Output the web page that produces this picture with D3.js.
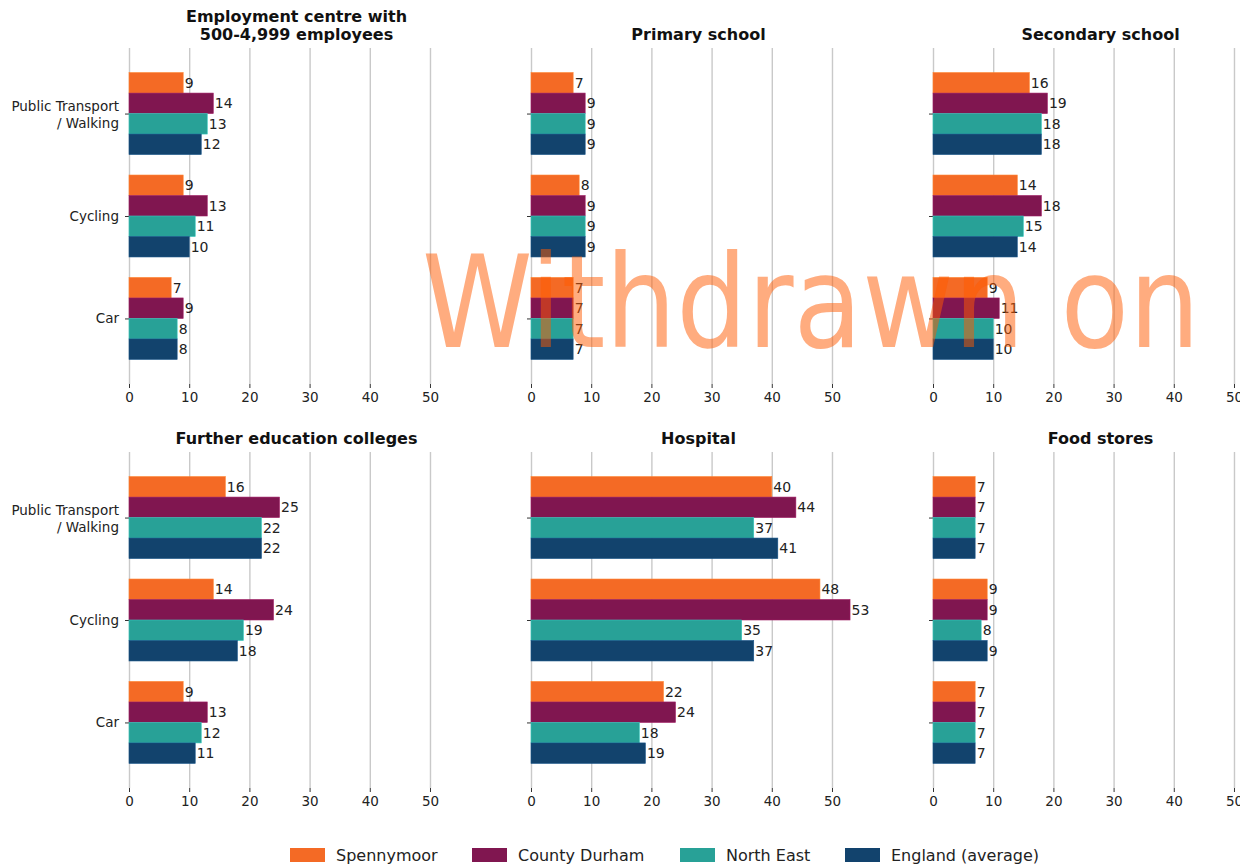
<!DOCTYPE html>
<html>
<head>
<meta charset="utf-8">
<script src="https://cdn.jsdelivr.net/npm/d3@7"></script>
<style>
  body { margin: 0; background: #fff; }
  svg { display: block; font-family: "DejaVu Sans", sans-serif; }
</style>
</head>
<body>
<svg id="chart" width="1240" height="866"></svg>
<script>
'use strict'
// categories down the y axis of every panel
var categories = ['Public Transport / Walking', 'Cycling', 'Car'];
var seriesNames = ['Spennymoor', 'County Durham', 'North East', 'England (average)'];
var seriesColors = ['#f46a25', '#801650', '#28a197', '#12436d'];
var panelTitles = [
	'Employment centre with\n500-4,999 employees', 'Primary school', 'Secondary school',
	'Further education colleges', 'Hospital', 'Food stores'
];
var xTicks = [0, 10, 20, 30, 40, 50];

// minutes, one row per category, one value per series
var employment = [[9, 14, 13, 12], [9, 13, 11, 10], [7, 9, 8, 8]];
var primary    = [[7, 9, 9, 9], [8, 9, 9, 9], [7, 7, 7, 7]];
var secondary  = [[16, 19, 18, 18], [14, 18, 15, 14], [9, 11, 10, 10]];
var further    = [[16, 25, 22, 22], [14, 24, 19, 18], [9, 13, 12, 11]];
var hospital   = [[40, 44, 37, 41], [48, 53, 35, 37], [22, 24, 18, 19]];
var food       = [[7, 7, 7, 7], [9, 9, 8, 9], [7, 7, 7, 7]];
var panels = [employment, primary, secondary, further, hospital, food];

var svg = d3.select('#chart');
var colX = [129, 531, 933], rowY = [48, 452];
var pw = 335, ph = 336;
var barH = 0.2;

var x = d3.scaleLinear().domain([0, 55.65]).range([0, pw]);
var y = d3.scaleLinear().domain([-0.64, 2.64]).range([0, ph]);

panels.forEach(function(data, p){
	var col = p % 3, row = Math.floor(p / 3);
	var g = svg.append('g').attr('transform', 'translate(' + colX[col] + ',' + rowY[row] + ')');

	// grid
	g.append('g').attr('class', 'grid')
		.call(d3.axisBottom(x).tickValues(xTicks).tickSize(ph).tickFormat(''))
		.call(function(s){
			s.select('.domain').remove();
			s.selectAll('line').attr('stroke', '#c9c9c9').attr('stroke-width', 1.4);
		});

	// x axis
	g.append('g').attr('transform', 'translate(0,' + ph + ')')
		.call(d3.axisBottom(x).tickValues(xTicks).tickSize(4).tickPadding(4))
		.call(function(s){
			s.select('.domain').remove();
			s.selectAll('line').attr('stroke', '#333');
			s.selectAll('text').attr('font-size', 13.5).attr('fill', '#222')
				.attr('font-family', '"DejaVu Sans", sans-serif');
		});

	// y axis
	var ya = g.append('g')
		.call(d3.axisLeft(y).tickValues([0, 1, 2]).tickSize(4).tickPadding(6)
			.tickFormat(col === 0 ? function(i){ return categories[i]; } : ''))
		.call(function(s){
			s.select('.domain').remove();
			s.selectAll('line').attr('stroke', '#333');
			s.selectAll('text').attr('font-size', 13.5).attr('fill', '#222')
				.attr('font-family', '"DejaVu Sans", sans-serif');
		});
	ya.selectAll('text').each(function(i){
		var t = d3.select(this), label = categories[i];
		if(col !== 0 || label.indexOf(' / ') < 0) return;
		var parts = label.split(' / ');
		t.text(null).attr('dy', null);
		t.append('tspan').attr('x', -10).attr('dy', '-0.2em').text(parts[0]);
		t.append('tspan').attr('x', -10).attr('dy', '1.2em').text('/ ' + parts[1]);
	});

	// bars
	var cells = [];
	data.forEach(function(vals, c){
		vals.forEach(function(v, s){ cells.push({c: c, s: s, v: v}); });
	});
	var pos = function(d){ return d.c - 0.4 + d.s * barH; };

	g.selectAll('rect.bar').data(cells).enter().append('rect')
		.attr('class', 'bar')
		.attr('x', x(0))
		.attr('y', function(d){ return y(pos(d)); })
		.attr('width', function(d){ return x(d.v) - x(0); })
		.attr('height', y(barH) - y(0))
		.attr('fill', function(d){ return seriesColors[d.s]; })
		.attr('stroke', function(d){ return d3.color(seriesColors[d.s]).brighter(0.6); })
		.attr('stroke-width', 0.6);

	g.selectAll('text.val').data(cells).enter().append('text')
		.attr('class', 'val')
		.attr('x', function(d){ return x(d.v) + 1.5; })
		.attr('y', function(d){ return y(pos(d) + barH / 2); })
		.attr('dy', '0.36em')
		.attr('font-size', 14)
		.attr('fill', '#222')
		.text(function(d){ return d.v; });

	// title
	var lines = panelTitles[p].split('\n');
	var title = g.append('text')
		.attr('x', pw / 2)
		.attr('y', -8 - (lines.length - 1) * 18)
		.attr('text-anchor', 'middle')
		.attr('font-size', 16)
		.attr('font-weight', 'bold')
		.attr('fill', '#111');
	lines.forEach(function(l, i){
		title.append('tspan').attr('x', pw / 2).attr('dy', i ? 18 : 0).text(l);
	});
});

// legend
var legendX = [290, 472, 680, 845];
var legend = svg.append('g').selectAll('g').data(seriesNames).enter().append('g')
	.attr('transform', function(d, i){ return 'translate(' + legendX[i] + ',848)'; });
legend.append('rect')
	.attr('width', 35).attr('height', 14)
	.attr('fill', function(d, i){ return seriesColors[i]; });
legend.append('text')
	.attr('x', 46).attr('y', 7).attr('dy', '0.36em')
	.attr('font-size', 16).attr('fill', '#222')
	.text(function(d){ return d; });

// watermark
svg.append('text')
	.attr('x', 422).attr('y', 347)
	.attr('font-size', 128)
	.attr('font-family', '"DejaVu Sans", sans-serif')
	.attr('fill', '#ff5a00')
	.attr('fill-opacity', 0.5)
	.attr('textLength', 778)
	.attr('lengthAdjust', 'spacingAndGlyphs')
	.text('Withdrawn on');
</script>
</body>
</html>
